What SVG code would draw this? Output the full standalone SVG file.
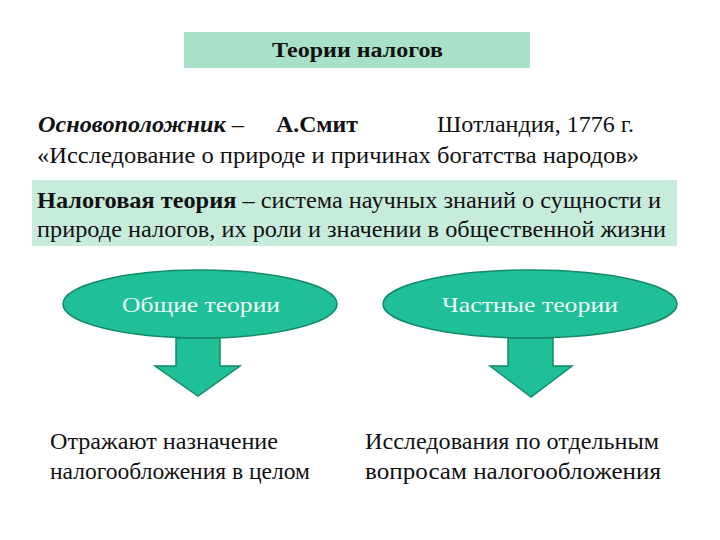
<svg xmlns="http://www.w3.org/2000/svg" width="720" height="540" viewBox="0 0 720 540">
<style>
text{font-family:"Liberation Serif","Times New Roman",serif;fill:#111}
.t{font-size:24px}
.b{font-weight:bold}
.e{fill:#1fbf97;stroke:#138a6c;stroke-width:1.5}
.et{font-size:22px;fill:#eefaf5;text-anchor:middle}
</style>
<rect width="720" height="540" fill="#fff"/>
<g id="title">
<rect x="184" y="32" width="346" height="36" fill="#a8e0c8"/>
<text x="272" y="57" class="b" font-size="20" textLength="171" lengthAdjust="spacingAndGlyphs">Теории налогов</text>
</g>
<g id="founder">
<text x="38" y="132" class="t" textLength="206" lengthAdjust="spacingAndGlyphs"><tspan font-weight="bold" font-style="italic">Основоположник</tspan> –</text>
<text x="276" y="132" class="t b" textLength="82" lengthAdjust="spacingAndGlyphs">А.Смит</text>
<text x="437" y="132" class="t" textLength="197" lengthAdjust="spacingAndGlyphs">Шотландия, 1776 г.</text>
<text x="37" y="163" class="t" textLength="602" lengthAdjust="spacingAndGlyphs">«Исследование о природе и причинах богатства народов»</text>
</g>
<g id="definition">
<rect x="32" y="180" width="645" height="66" fill="#c8ecdc"/>
<text x="37" y="208" class="t" textLength="624" lengthAdjust="spacingAndGlyphs"><tspan font-weight="bold">Налоговая теория</tspan> – система научных знаний о сущности и</text>
<text x="37" y="237" class="t" textLength="629" lengthAdjust="spacingAndGlyphs">природе налогов, их роли и значении в общественной жизни</text>
</g>
<g id="general">
<ellipse cx="200" cy="304" rx="137" ry="34" class="e"/>
<text x="201" y="312" class="et" textLength="158" lengthAdjust="spacingAndGlyphs">Общие теории</text>
</g>
<g id="particular">
<ellipse cx="530" cy="304" rx="147" ry="34" class="e"/>
<text x="530" y="312" class="et" textLength="176" lengthAdjust="spacingAndGlyphs">Частные теории</text>
</g>
<g id="connectors">
<path d="M176 338 H220 V366 H240 L198 396 L155 366 H176 Z" class="e"/>
<path d="M508 338 H553 V366 H572 L531 397 L490 366 H508 Z" class="e"/>
</g>
<g id="general-desc">
<text x="50" y="449" class="t" textLength="228" lengthAdjust="spacingAndGlyphs">Отражают назначение</text>
<text x="50" y="479" class="t" textLength="260" lengthAdjust="spacingAndGlyphs">налогообложения в целом</text>
</g>
<g id="particular-desc">
<text x="365" y="449" class="t" textLength="294" lengthAdjust="spacingAndGlyphs">Исследования по отдельным</text>
<text x="365" y="479" class="t" textLength="296" lengthAdjust="spacingAndGlyphs">вопросам налогообложения</text>
</g>
</svg>
